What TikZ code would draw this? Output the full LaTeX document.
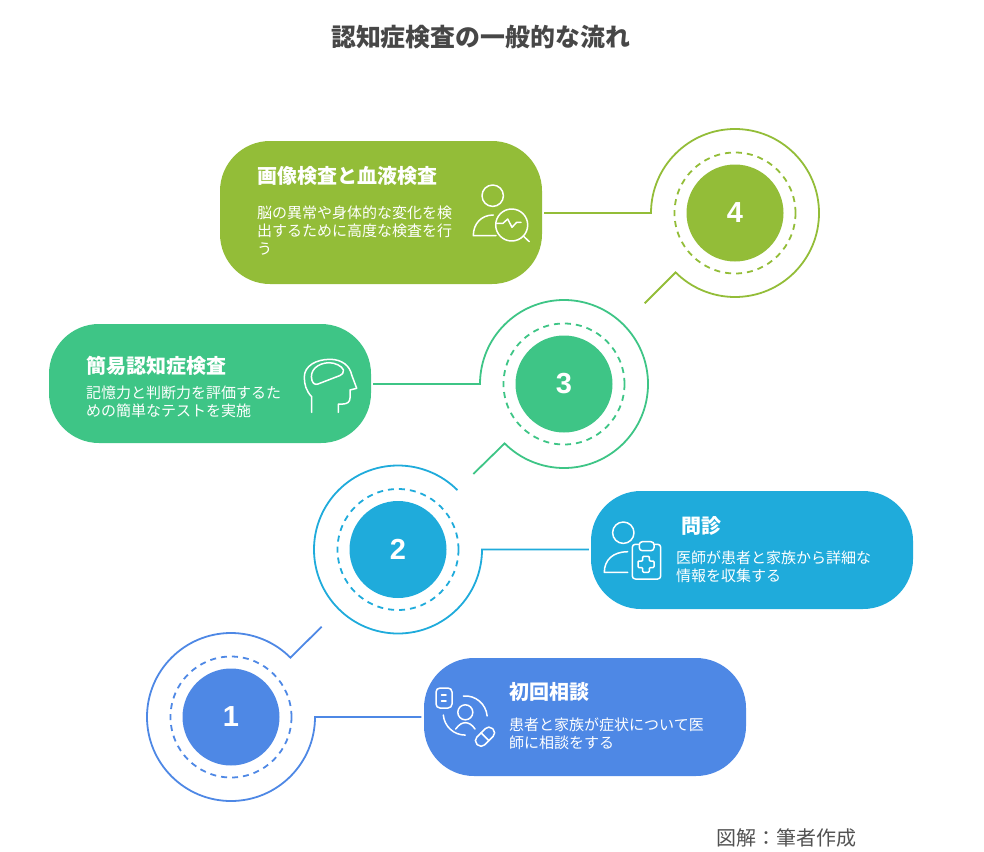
\documentclass[tikz,border=0pt]{standalone}
\usepackage{fontspec}
\setmainfont{Noto Sans CJK JP}
\newfontfamily\numf{Liberation Sans}
\usetikzlibrary{calc}
\definecolor{cA}{HTML}{4E88E5}
\definecolor{cB}{HTML}{1FABDB}
\definecolor{cC}{HTML}{3EC586}
\definecolor{cD}{HTML}{93BD38}
\tikzset{
  pill/.style={rounded corners=50pt,minimum width=322pt,inner sep=0pt},
  disc/.style={circle,inner sep=0pt,minimum size=97pt,text=white,font=\numf\bfseries\fontsize{29}{29}\selectfont},
  dashring/.style={line width=1.8pt,dash pattern=on 6pt off 5pt},
  ringline/.style={line width=1.8pt,line join=miter},
  headtext/.style={anchor=west,inner sep=0pt,text=white,font=\bfseries\fontsize{20}{24}\selectfont},
  bodytext/.style={anchor=west,inner sep=0pt,align=left,text=white,font=\fontsize{15}{18}\selectfont},
  icon/.style={draw=white,line width=1.5pt,line cap=round,line join=round},
}
\begin{document}
\begin{tikzpicture}[x=1pt,y=1pt,yscale=-1]
\useasboundingbox (0,0) rectangle (984,851);
\node[inner sep=0pt,text=black!72,font=\bfseries\fontsize{24.9}{30}\selectfont] (title) at (480.5,37) {認知症検査の一般的な流れ};
\node[inner sep=0pt,text=black!68,font=\fontsize{20}{24}\selectfont] (credit) at (786,838) {図解：筆者作成};
% pills
\node[pill,fill=cA,minimum height=118pt] (b1) at (585,717) {};
\node[pill,fill=cB,minimum height=118pt] (b2) at (752,550) {};
\node[pill,fill=cC,minimum height=119pt] (b3) at (210,383.5) {};
\node[pill,fill=cD,minimum height=143pt] (b4) at (381,212.5) {};
% discs
\node[disc,fill=cA] (n1) at (231,717) {1};
\node[disc,fill=cB] (n2) at (398,549.5) {2};
\node[disc,fill=cC] (n3) at (564,384) {3};
\node[disc,fill=cD] (n4) at (735,213) {4};
% dashed rings
\draw[cA,dashring] (n1.center) circle[radius=60.5];
\draw[cB,dashring] (n2.center) circle[radius=60.5];
\draw[cC,dashring] (n3.center) circle[radius=60.5];
\draw[cD,dashring] (n4.center) circle[radius=60.5];
% tails
\coordinate (t1) at (321.7,626.7);
\coordinate (t3) at (473.3,474);
\coordinate (t4) at (644.7,303.3);
% connectors with rings
\draw[cA,ringline] ([xshift=-2.5pt]b1.west |- n1.center) -- ([xshift=84pt]n1.center) arc[start angle=0,end angle=315,radius=84] -- (t1);
\draw[cB,ringline] ([xshift=-2pt]b2.west |- n2.center) -- ([xshift=84pt]n2.center) arc[start angle=0,end angle=315,radius=84];
\draw[cC,ringline] ([xshift=2pt]b3.east |- n3.center) -- ([xshift=-84pt]n3.center) arc[start angle=180,end angle=495,radius=84] -- (t3);
\draw[cD,ringline] ([xshift=2pt]b4.east |- n4.center) -- ([xshift=-84pt]n4.center) arc[start angle=180,end angle=495,radius=84] -- (t4);
% texts
\node[headtext] (h1) at (509,692) {初回相談};
\node[bodytext] (p1) at (509,734) {患者と家族が症状について医\\師に相談をする};
\node[headtext] (h2) at (681,526) {問診};
\node[bodytext] (p2) at (676,567) {医師が患者と家族から詳細な\\情報を収集する};
\node[headtext] (h3) at (86,366) {簡易認知症検査};
\node[bodytext] (p3) at (86,402) {記憶力と判断力を評価するた\\めの簡単なテストを実施};
\node[headtext] (h4) at (257,176) {画像検査と血液検査};
\node[bodytext] (p4) at (257,230.5) {脳の異常や身体的な変化を検\\出するために高度な検査を行\\う};
% icon 1
\draw[icon,rounded corners=4pt] (436,688) rectangle (452,708);
\draw[icon] (441.5,695) -- (446,695) (441.5,701) -- (446,701);
\draw[icon] (465.3,712.3) circle[radius=7.5];
\draw[icon] (455.7,729) .. controls (459,724.5) and (462,722.7) .. (465.3,722.7) .. controls (468.7,722.7) and (472,724.5) .. (475,729);
\draw[icon] (463.3,696) arc[start angle=-95,end angle=-5,radius=22];
\draw[icon] (443.3,715) arc[start angle=175,end angle=90,radius=22];
\draw[icon,rotate around={-45:(485,736.7)},rounded corners=5pt] (474,731.2) rectangle (496,742.2);
\draw[icon] (481,732.7) -- (489,740.7);
% icon 2
\draw[icon] (623.3,532.7) circle[radius=10.7];
\draw[icon] (627.7,551.7) .. controls (613,551.7) and (604.3,560) .. (604.3,572.3) -- (627.7,572.3);
\draw[icon,rounded corners=3pt] (632.3,544.3) rectangle (660.7,579);
\draw[icon,rounded corners=3pt,fill=cB] (639.3,541.7) rectangle (654,550.7);
\draw[icon,rounded corners=1pt] (642.7,556.3) -- (649.3,556.3) -- (649.3,561) -- (654,561) -- (654,567.6) -- (649.3,567.6) -- (649.3,572.3) -- (642.7,572.3) -- (642.7,567.6) -- (638,567.6) -- (638,561) -- (642.7,561) -- cycle;
% icon 3
\draw[icon] (311.7,412.3) -- (311.7,396.7) .. controls (306,391) and (304.3,384) .. (304.3,377) .. controls (304.3,366) and (316,359.3) .. (330,359.3) .. controls (342,359.3) and (350,366) .. (351.7,375) -- (356.7,388.3) -- (350,390) -- (350,398) .. controls (350,402) and (347,404) .. (343,404) -- (338.3,404) -- (338.3,412.3);
\draw[icon] (312,380.5) .. controls (309,370) and (318,363) .. (329,362.7) .. controls (335,362.7) and (342,366) .. (343.5,370) .. controls (344,373) and (342,374.5) .. (340,375.5) -- (318,384) .. controls (315,385) and (313,383.5) .. (312,380.5) -- cycle;
% icon 4
\draw[icon] (492.7,195.7) circle[radius=10.7];
\draw[icon] (493.3,215) .. controls (481,215) and (473.3,224) .. (473.3,235.7) -- (496,235.7);
\draw[icon] (511.7,225) circle[radius=16];
\draw[icon] (523.3,236) -- (529.3,241.7);
\draw[icon] (496.7,223.3) -- (503,223.3) -- (507.7,219) -- (512,227.3) -- (516.7,222.3) -- (521,222.3);
\end{tikzpicture}
\end{document}
